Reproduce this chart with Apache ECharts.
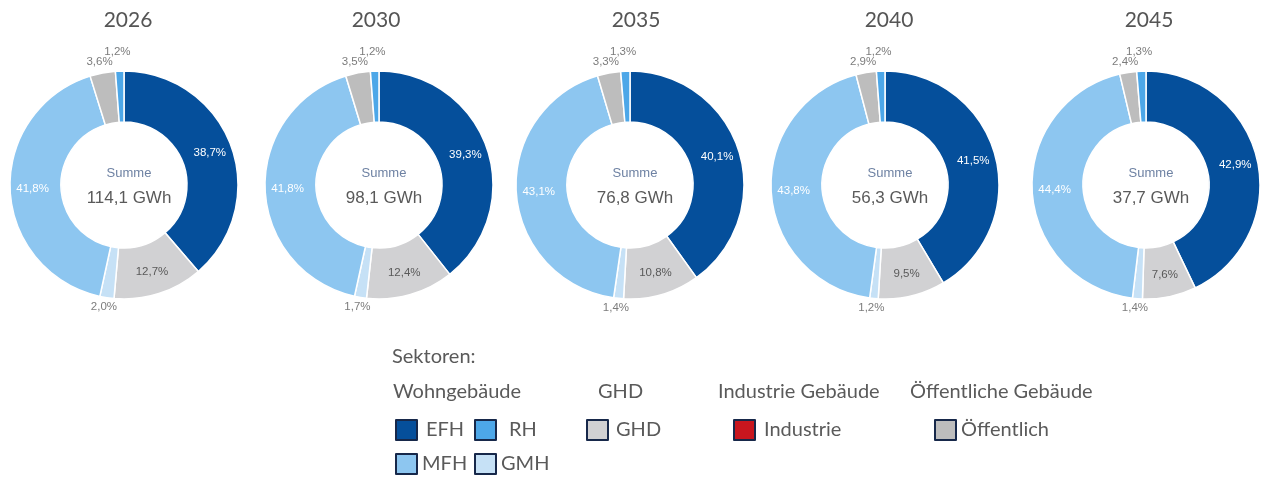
<!DOCTYPE html>
<html>
<head>
<meta charset="utf-8">
<script src="https://cdn.jsdelivr.net/npm/echarts@6/dist/echarts.min.js"></script>
<style>
  html, body { margin: 0; padding: 0; background: #ffffff; }
  #chart { width: 1261px; height: 477px; }
</style>
</head>
<body>
<div id="chart"></div>
<script>
// Energy demand shares by building sector, per scenario year (percent)
const years = ['2026', '2030', '2035', '2040', '2045'];
const sectors = ['EFH', 'Industrie', 'GHD', 'GMH', 'MFH', 'Öffentlich', 'RH'];
const efh = [38.7, 39.3, 40.1, 41.5, 42.9];
const industrie = [0, 0, 0, 0, 0];
const ghd = [12.7, 12.4, 10.8, 9.5, 7.6];
const gmh = [2.0, 1.7, 1.4, 1.2, 1.4];
const mfh = [41.8, 41.8, 43.1, 43.8, 44.4];
const oeff = [3.6, 3.5, 3.3, 2.9, 2.4];
const rh = [1.2, 1.2, 1.3, 1.2, 1.3];
const totals = [114.1, 98.1, 76.8, 56.3, 37.7];

const sectorValues = {
  'EFH': efh, 'Industrie': industrie, 'GHD': ghd, 'GMH': gmh,
  'MFH': mfh, 'Öffentlich': oeff, 'RH': rh
};

const colors = {
  'EFH': '#054f9b',
  'Industrie': '#c8161e',
  'GHD': '#d1d1d3',
  'GMH': '#c6e1f6',
  'MFH': '#8dc6f0',
  'Öffentlich': '#bdbdbd',
  'RH': '#4da7e8'
};

const insideLabel = { 'EFH': '#ffffff', 'MFH': '#ffffff', 'GHD': '#595959' };
// nudges for the small outer labels so they stack neatly around the ring
const outerShift = {
  'Öffentlich': [3, -5],
  'RH': [3, -13],
  'GMH': [3, 3]
};

const centersX = [124, 379, 630, 885, 1146];
const titleX = [123, 371, 631, 884, 1144];
const centerY = 185;

const legendFont = "Lato, 'Open Sans', sans-serif";
const labelFont = "'Liberation Sans', Arial, sans-serif";

function fmtPct(v) {
  return v.toFixed(1).replace('.', ',') + '%';
}

const series = years.map((year, yi) => ({
  type: 'pie',
  name: year,
  center: [centersX[yi], centerY],
  radius: [63, 114],
  startAngle: 90,
  clockwise: true,
  avoidLabelOverlap: false,
  silent: true,
  itemStyle: { borderColor: '#ffffff', borderWidth: 1.5 },
  labelLine: { show: false, length: 6, length2: 0 },
  emphasis: { disabled: true },
  labelLayout: params => {
    const name = sectors[params.dataIndex];
    const s = outerShift[name];
    if (!s) return {};
    return { align: 'center', dx: s[0], dy: s[1] };
  },
  data: sectors.map(name => {
    const v = sectorValues[name][yi];
    const inside = insideLabel[name] !== undefined;
    return {
      name: name,
      value: v,
      itemStyle: { color: colors[name], borderWidth: v === 0 ? 0 : 1.5 },
      label: {
        show: v > 0,
        position: inside ? 'inside' : 'outside',
        formatter: p => fmtPct(p.value),
        color: inside ? insideLabel[name] : '#7c7c7c',
        fontFamily: labelFont,
        fontSize: 11.5
      }
    };
  })
}));

const titles = [];
years.forEach((year, yi) => {
  titles.push({
    text: year,
    left: titleX[yi], top: 5,
    textAlign: 'center',
    textStyle: { fontFamily: legendFont, fontSize: 21, fontWeight: 'normal', color: '#555555' }
  });
  titles.push({
    text: 'Summe',
    left: centersX[yi], top: centerY - 23,
    textAlign: 'center',
    textStyle: { fontFamily: labelFont, fontSize: 13, fontWeight: 'normal', color: '#6e82a3' }
  });
  titles.push({
    text: totals[yi].toFixed(1).replace('.', ',') + ' GWh',
    left: centersX[yi], top: centerY,
    textAlign: 'center',
    textStyle: { fontFamily: labelFont, fontSize: 17, fontWeight: 'normal', color: '#5a5a5a' }
  });
});

// Legend entries, one legend block per item so they can be laid out in groups
const legendSlots = [
  { name: 'EFH', left: 395, top: 419, gap: 4 },
  { name: 'RH', left: 474, top: 419, gap: 8 },
  { name: 'GHD', left: 586, top: 419, gap: 3 },
  { name: 'Industrie', left: 733, top: 419, gap: 4 },
  { name: 'Öffentlich', left: 934, top: 419, gap: 0 },
  { name: 'MFH', left: 395, top: 453, gap: 0 },
  { name: 'GMH', left: 474, top: 453, gap: 0 }
];

const legends = legendSlots.map(s => ({
  data: [s.name],
  left: s.left,
  top: s.top,
  orient: 'horizontal',
  selectedMode: false,
  icon: 'rect',
  itemWidth: 21,
  itemHeight: 20,
  itemGap: 0,
  padding: 0,
  itemStyle: { borderColor: '#17284a', borderWidth: 2 },
  textStyle: {
    fontFamily: legendFont, fontSize: 20, color: '#5a5a5a',
    padding: [0, 0, 0, s.gap]
  }
}));

const headers = [
  { text: 'Sektoren:', x: 392, y: 347 },
  { text: 'Wohngebäude', x: 393, y: 382 },
  { text: 'GHD', x: 598, y: 382 },
  { text: 'Industrie Gebäude', x: 718, y: 382 },
  { text: 'Öffentliche Gebäude', x: 910, y: 382 }
];

const chart = echarts.init(document.getElementById('chart'), null, { renderer: 'canvas' });
chart.setOption({
  backgroundColor: '#ffffff',
  animation: false,
  title: titles,
  legend: legends,
  graphic: headers.map(h => ({
    type: 'text',
    left: h.x, top: h.y,
    style: { text: h.text, fill: '#5a5a5a', font: "20px " + legendFont }
  })),
  series: series
});
</script>
</body>
</html>
